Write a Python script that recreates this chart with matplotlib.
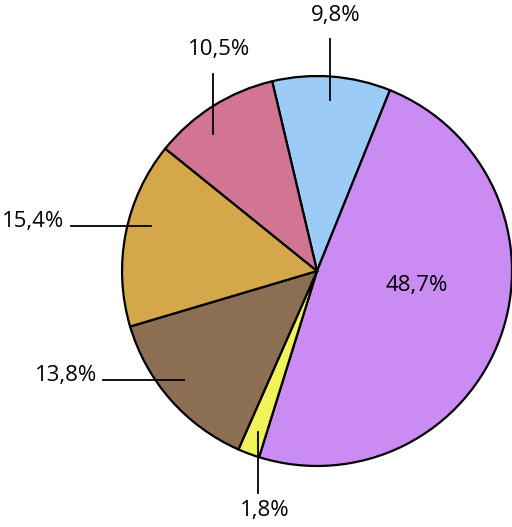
#Pie chart of six shares, labels outside with straight leader lines
import numpy as np
import matplotlib.pyplot as plt

#Data, clockwise from the top
labels = ['9,8%', '48,7%', '1,8%', '13,8%', '15,4%', '10,5%']
shares = [9.8, 48.7, 1.8, 13.8, 15.4, 10.5]
colours = ['#9DCBF7', '#CA8BF3', '#F1F35A', '#8C6E52', '#D4A84A', '#D17592']

#Leader style per slice: direction, length, nudge of anchor angle (deg)
leader_dir = ['up', None, 'down', 'left', 'left', 'up']
leader_len = [0.31, 0, 0.31, 0.415, 0.415, 0.31]
leader_nudge = [0, 0, 0.5, -2, -4, 5]

plt.rcParams['font.family'] = ['Open Sans', 'DejaVu Sans']

fig = plt.figure(figsize=(5.12, 5.27), dpi=100)
ax = fig.add_axes([0, 0, 1, 1])
start = 103.3
wedges, _ = ax.pie(shares, colors=colours, startangle=start, counterclock=False,
                   radius=1, wedgeprops=dict(edgecolor='black', linewidth=1.6))

ax.set_xlim(-1.626, 1.0)
ax.set_ylim(-1.313, 1.390)
ax.set_aspect('equal')
ax.axis('off')

fs = 16
for w, lab, d, ln, nd in zip(wedges, labels, leader_dir, leader_len, leader_nudge):
    mid = np.deg2rad((w.theta1 + w.theta2) / 2 + nd)
    if d is None:
        #Big slice gets its label inside
        ax.text(0.513, -0.075, lab, fontsize=fs, ha='center', va='center')
        continue
    x0, y0 = 0.88*np.cos(mid), 0.88*np.sin(mid)
    if d == 'up':
        x1, y1 = x0, y0 + ln
        ax.text(x1 + 0.03, y1 + 0.125, lab, fontsize=fs, ha='center', va='center')
    elif d == 'down':
        x1, y1 = x0, y0 - ln
        ax.text(x1 + 0.035, y1 - 0.09, lab, fontsize=fs, ha='center', va='center')
    else:
        x1, y1 = x0 - ln, y0
        ax.text(x1 - 0.03, y1 - 0.005, lab, fontsize=fs, ha='right', va='baseline')
    ax.plot([x0, x1], [y0, y1], color='black', linewidth=1.3)

plt.savefig('out.png', dpi=100)
